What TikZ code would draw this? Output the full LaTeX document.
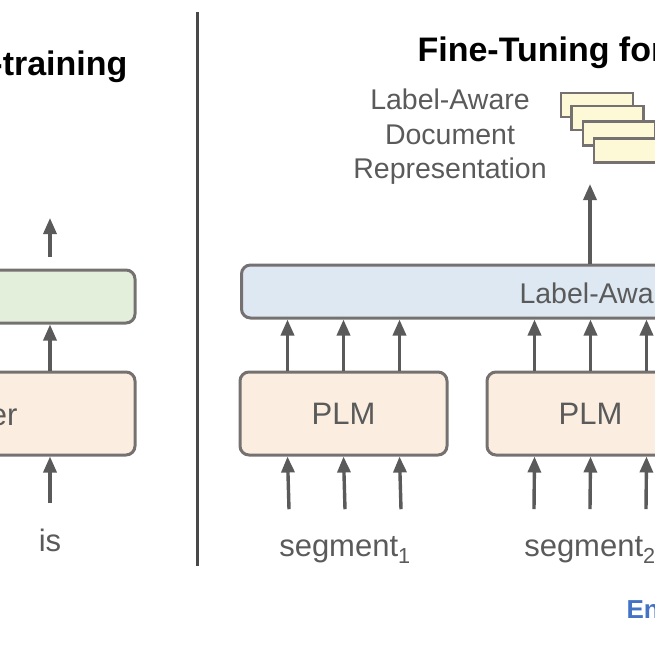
\documentclass[tikz,border=0pt]{standalone}
\usepackage{fontspec}
\setmainfont{Liberation Sans}
\usetikzlibrary{arrows.meta, positioning}
\definecolor{boxgray}{RGB}{118,113,113}
\definecolor{plmfill}{RGB}{251,238,224}
\definecolor{lafill}{RGB}{222,232,243}
\definecolor{headfill}{RGB}{227,239,218}
\definecolor{docfill}{RGB}{253,249,214}
\definecolor{txtgray}{RGB}{90,90,90}
\definecolor{encblue}{RGB}{68,114,196}
\tikzset{
box/.style={draw=boxgray, line width=3pt, rounded corners=9pt}, % rounded blocks
doc/.style={draw=boxgray, line width=2.6pt, fill=docfill}, % paper sheets
flow/.style={-{Triangle[length=16pt,width=13pt]}, line width=3.4pt, draw=txtgray, fill=txtgray}, % arrows
lbl/.style={text=txtgray, font=\fontsize{31}{34}\selectfont}, % texts
}
\begin{document}
\begin{tikzpicture}[x=1pt, y=-1pt]
  \useasboundingbox (0,0) rectangle (655,655);
  \clip (0,0) rectangle (655,655);

  % divider
  \draw[line width=3pt, draw=txtgray!80!black] (197,12) -- (197,566);

  % titles
  \node[anchor=east, font=\bfseries\fontsize{34}{38}\selectfont] (ptitle) at (131,67) {Pre-training};
  \node[anchor=west, font=\bfseries\fontsize{34}{38}\selectfont] (ftitle) at (414,53) {Fine-Tuning for Classification};

  % left: pre-training
  \node[box, fill=headfill, minimum width=170pt, minimum height=53pt] (head) at (50,296.5) {};
  \node[box, fill=plmfill, minimum width=170pt, minimum height=83pt] (enc) at (50,413.5) {};
  \node[lbl, anchor=east] (enctext) at (21,414) {Encoder};
  \node[lbl] (is) at (50,540) {is};
  \coordinate (top0) at (50,218);
  \draw[flow] ([yshift=12pt]head.north) -- (top0);
  \draw[flow] (enc.north) -- (head.south);
  \draw[flow] ([yshift=22pt]is.north) -- (enc.south);

  % right: fine-tuning
  \node[box, fill=lafill, minimum width=460pt, minimum height=53pt, anchor=west] (laa) at (240,291.5) {};
  \node[lbl, anchor=west, font=\fontsize{28.5}{32}\selectfont] (latext) at (516,293) {Label-Aware Attention};
  \node[box, fill=plmfill, minimum width=207pt, minimum height=83pt] (plm1) at (343.5,413.5) {};
  \node[box, fill=plmfill, minimum width=207pt, minimum height=83pt] (plm2) at (590.5,413.5) {};
  \node[lbl] at (plm1) {PLM};
  \node[lbl] at (plm2) {PLM};
  \node[lbl] (seg1) at (345,550) {segment\textsubscript{1}};
  \node[lbl] (seg2) at (590,550) {segment\textsubscript{2}};

  \foreach \dx in {-56,0,56} {
    \draw[flow] ([xshift=\dx pt]plm1.north) -- ([xshift=\dx pt]plm1.north |- laa.south);
    \draw[flow] ([xshift=\dx pt, yshift=24pt]seg1.north) -- ([xshift=\dx pt]plm1.south);
    \draw[flow] ([xshift=\dx pt]plm2.north) -- ([xshift=\dx pt]plm2.north |- laa.south);
    \draw[flow] ([xshift=\dx pt, yshift=24pt]seg2.north) -- ([xshift=\dx pt]plm2.south);
  }

  % document representation
  \node[doc, minimum width=72pt, minimum height=24pt] (d1) at (597,105) {};
  \node[doc, minimum width=72pt, minimum height=24pt] (d2) at (607.5,118) {};
  \node[doc, minimum width=72pt, minimum height=24pt] (d3) at (619,133.5) {};
  \node[doc, minimum width=72pt, minimum height=24pt] (d4) at (630,150.5) {};
  \coordinate (rep) at (590,184);
  \draw[flow] (laa.north -| rep) -- (rep);
  \node[lbl, align=center, font=\fontsize{28.5}{34.5}\selectfont] (reptext) at (450,137) {Label-Aware\\Document\\Representation};

  \node[anchor=west, text=encblue, font=\bfseries\fontsize{26}{28}\selectfont] (enc2) at (623,609) {Encoder};
\end{tikzpicture}
\end{document}
